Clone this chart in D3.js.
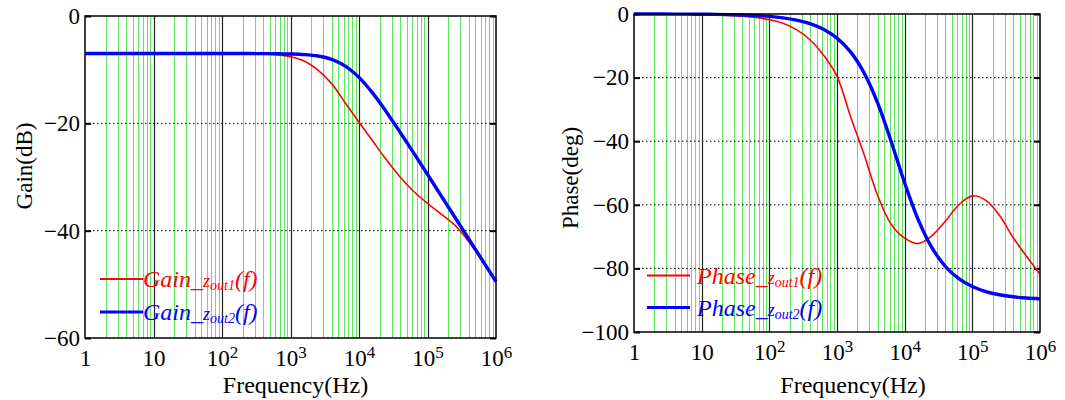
<!DOCTYPE html>
<html>
<head>
<meta charset="utf-8">
<script src="https://cdn.jsdelivr.net/npm/d3@7"></script>
<style>
body { margin: 0; background: #fff; }
svg text { font-family: "Liberation Serif", "Tinos", "Nimbus Roman", "Times New Roman", "DejaVu Serif", serif; }
</style>
</head>
<body>
<div id="chart-area"></div>
<script>
// frequency samples (Hz), 5 per decade
var freq = [1, 1.585, 2.512, 3.981, 6.310,
    10, 15.85, 25.12, 39.81, 63.10,
    100, 158.5, 251.2, 398.1, 631.0,
    1000, 1585, 2512, 3981, 6310,
    1e4, 15849, 25119, 39811, 63096,
    1e5, 158489, 251189, 398107, 630957, 1e6];

// Gain (dB)
var gainZout1 = [-7, -7, -7, -7, -7, -7, -7, -7, -7, -7, -7, -7, -7,
    -7.05, -7.2, -7.6, -8.4, -10.1, -12.6, -16.2, -19.8, -23.3, -26.8,
    -30.0, -32.7, -34.9, -36.9, -39.0, -42.0, -45.6, -49.5];
var gainZout2 = [-7, -7, -7, -7, -7, -7, -7, -7, -7, -7, -7, -7, -7,
    -7.01, -7.03, -7.08, -7.19, -7.46, -8.08, -9.33, -11.44, -14.38, -17.87,
    -21.65, -25.56, -29.52, -33.51, -37.5, -41.5, -45.5, -49.5];

// Phase (deg)
var phaseZout1 = [-0.02, -0.03, -0.04, -0.07, -0.11, -0.18, -0.28, -0.45, -0.7, -1.1,
    -1.8, -2.9, -4.9, -8.1, -12.9, -19.6, -32.2, -44.2, -57.0, -66.1,
    -70.5, -72.2, -69.8, -65.2, -60.0, -57.2, -58.6, -63.3, -70.2, -76.2, -81.8];
var phaseZout2 = [0, -0.01, -0.02, -0.03, -0.05, -0.08, -0.12, -0.19, -0.3, -0.48,
    -0.76, -1.21, -1.92, -3.04, -4.81, -7.6, -11.93, -18.52, -27.96, -40.07,
    -53.15, -64.67, -73.38, -79.33, -83.22, -85.71, -87.29, -88.29, -88.92, -89.32, -89.57];

// tick labels
var decades = [1, 10, 100, 1e3, 1e4, 1e5, 1e6];
var decadeBase = ["1", "10", "10", "10", "10", "10", "10"];
var decadeExp = ["", "", "2", "3", "4", "5", "6"];
var gainTicks = [0, -20, -40, -60];
var phaseTicks = [0, -20, -40, -60, -80, -100];

var legendSubs = ["out1", "out2"];
var colors = ["#ff0000", "#0000ff"];
var widths = [1.6, 3.4];

var serif = "Liberation Serif, Tinos, Nimbus Roman, Times New Roman, DejaVu Serif, serif";

var svg = d3.select("#chart-area")
    .append("svg")
        .attr("width", 1065)
        .attr("height", 400);

function drawPanel(p) {
    var x = d3.scaleLog().domain([1, 1e6]).range([p.left, p.right]);
    var y = d3.scaleLinear().domain([p.ticks[p.ticks.length - 1], 0]).range([p.bottom, p.top]);
    var g = svg.append("g").attr("font-family", serif);

    // green minor grid: 2..9 in every decade
    var minor = [];
    decades.slice(0, -1).forEach(function(d){
        for (var k = 2; k < 10; k++) minor.push(d * k);
    });
    g.selectAll(".minor").data(minor).enter().append("line")
        .attr("x1", function(d){ return Math.round(x(d)) + 0.5; })
        .attr("x2", function(d){ return Math.round(x(d)) + 0.5; })
        .attr("y1", p.top).attr("y2", p.bottom)
        .attr("stroke", "#5ee65e")
        .attr("stroke-width", 1);

    // dotted horizontal grid
    g.selectAll(".hgrid").data(p.ticks.slice(1, -1)).enter().append("line")
        .attr("x1", p.left).attr("x2", p.right)
        .attr("y1", function(d){ return y(d); })
        .attr("y2", function(d){ return y(d); })
        .attr("stroke", "#000")
        .attr("stroke-width", 1)
        .attr("stroke-dasharray", "1.5,2.5");

    // decade lines
    g.selectAll(".major").data(decades.slice(1, -1)).enter().append("line")
        .attr("x1", function(d){ return Math.round(x(d)) + 0.5; })
        .attr("x2", function(d){ return Math.round(x(d)) + 0.5; })
        .attr("y1", p.top).attr("y2", p.bottom)
        .attr("stroke", "#222")
        .attr("stroke-width", 1.2);

    // y axis (inward ticks on both sides)
    var yAxisCall = d3.axisLeft(y).tickValues(p.ticks)
        .tickSizeInner(-6).tickSizeOuter(0).tickPadding(5);
    var yAxisGroup = g.append("g")
        .attr("transform", "translate(" + p.left + ",0)")
        .call(yAxisCall);
    yAxisGroup.attr("font-family", serif).attr("font-size", 23);
    yAxisGroup.select(".domain").remove();
    yAxisGroup.selectAll("line").attr("stroke-width", 2);
    yAxisGroup.selectAll("text").attr("fill", "#000");

    var yRight = g.append("g")
        .attr("transform", "translate(" + p.right + ",0)")
        .call(d3.axisRight(y).tickValues(p.ticks).tickSizeInner(-6).tickSizeOuter(0).tickFormat(""));
    yRight.select(".domain").remove();
    yRight.selectAll("line").attr("stroke-width", 2);

    // x axis labels with superscripts
    var xAxisGroup = g.append("g")
        .attr("transform", "translate(0," + p.bottom + ")")
        .call(d3.axisBottom(x).tickValues(decades).tickSize(0).tickPadding(12)
            .tickFormat(function(d, i){ return decadeBase[i]; }));
    xAxisGroup.attr("font-family", serif).attr("font-size", 23);
    xAxisGroup.select(".domain").remove();
    xAxisGroup.selectAll("text")
        .attr("fill", "#000")
        .each(function(d, i){
            if (decadeExp[i]) {
                d3.select(this).append("tspan")
                    .attr("font-size", "17px")
                    .attr("dy", "-8")
                    .text(decadeExp[i]);
            }
        });

    // curves
    var line = d3.line()
        .x(function(d){ return x(d[0]); })
        .y(function(d){ return y(d[1]); })
        .curve(d3.curveCatmullRom.alpha(0.5));
    p.series.forEach(function(s, i){
        g.append("path")
            .datum(freq.map(function(f, j){ return [f, s[j]]; }))
            .attr("fill", "none")
            .attr("stroke", colors[i])
            .attr("stroke-width", widths[i])
            .attr("stroke-linejoin", "round")
            .attr("d", line);
    });

    // frame
    g.append("rect")
        .attr("x", p.left).attr("y", p.top)
        .attr("width", p.right - p.left).attr("height", p.bottom - p.top)
        .attr("fill", "none")
        .attr("stroke", "#000")
        .attr("stroke-width", 1.5);

    // axis titles
    g.append("text")
        .attr("x", (p.left + p.right) / 2 + p.xLabelShift)
        .attr("y", 393)
        .attr("text-anchor", "middle")
        .attr("font-size", "24px")
        .text("Frequency(Hz)");
    g.append("text")
        .attr("transform", "translate(" + p.yLabelX + "," + p.yLabelY + ") rotate(-90)")
        .attr("text-anchor", "middle")
        .attr("font-size", "23px")
        .text(p.yLabel);

    // legend
    p.series.forEach(function(s, i){
        var ly = p.legendY[i];
        g.append("line")
            .attr("x1", p.legendX[0]).attr("x2", p.legendX[1])
            .attr("y1", ly).attr("y2", ly)
            .attr("stroke", colors[i])
            .attr("stroke-width", i === 0 ? 2 : 3);
        var t = g.append("text")
            .attr("x", p.legendX[2])
            .attr("y", ly + 8)
            .attr("fill", colors[i])
            .attr("font-style", "italic")
            .attr("font-size", "24px");
        t.append("tspan").text(p.legendName + "_");
        t.append("tspan").attr("font-size", "18px").text("z");
        t.append("tspan").attr("font-size", "14px").attr("dy", "3").text(legendSubs[i]);
        t.append("tspan").attr("dy", "-3").text("(f)");
    });
}

drawPanel({
    left: 85, right: 496, top: 16, bottom: 338,
    ticks: gainTicks,
    series: [gainZout1, gainZout2],
    yLabel: "Gain(dB)", yLabelX: 32, yLabelY: 166,
    xLabelShift: 5,
    legendName: "Gain",
    legendX: [100, 143, 143], legendY: [279, 312]
});

drawPanel({
    left: 634, right: 1040, top: 14, bottom: 332,
    ticks: phaseTicks,
    series: [phaseZout1, phaseZout2],
    yLabel: "Phase(deg)", yLabelX: 578, yLabelY: 178,
    xLabelShift: 16,
    legendName: "Phase",
    legendX: [647, 690, 697], legendY: [275.5, 307.5]
});
</script>
</body>
</html>
